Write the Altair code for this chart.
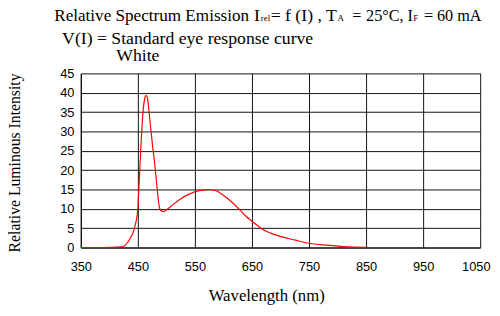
import altair as alt
import pandas as pd

# Spectrum curve
wavelength = [350, 380, 400, 420, 426, 432, 437, 441, 444, 446.5, 448.5, 450, 452, 454,
              456, 458, 460, 462, 464.5, 467, 469, 472, 476, 480, 484, 487, 489, 492,
              495, 498, 501, 510, 524, 540, 552, 565, 575, 588, 598, 612, 627, 640,
              650, 660, 668, 680, 697, 712, 726, 750, 781, 810, 850]
intensity = [0, 0, 0.05, 0.2, 0.4, 1.3, 2.5, 3.6, 5, 6.5, 8, 10, 16, 22,
             28, 33, 36.5, 38.5, 39.3, 38.5, 36, 31.5, 26, 21, 15, 11, 9.8, 9.4,
             9.3, 9.5, 9.8, 10.9, 12.5, 13.8, 14.5, 14.9, 15.0, 14.6, 13.7, 12.1, 10.0, 8.0,
             6.8, 5.6, 4.8, 3.9, 3.0, 2.4, 1.9, 1.1, 0.6, 0.25, 0.05]

x_ticks = [350, 450, 550, 650, 750, 850, 950, 1050]
y_ticks = [0, 5, 10, 15, 20, 25, 30, 35, 40, 45]

title_segments = ["Relative Spectrum Emission", "I", "rel", "= f (I) , T", "A",
                  "=", "25°C,", "I", "F", "=", "60 mA"]
subtitle = "V(I) = Standard eye response curve"
series_label = "White"
x_title = "Wavelength (nm)"
y_title = "Relative Luminous Intensity"

df = pd.DataFrame({"wavelength": wavelength, "intensity": intensity})

SERIF = "Liberation Serif"
SANS = "Liberation Sans"

line = alt.Chart(df).mark_line(color="#ff0000", strokeWidth=1.2, interpolate="monotone").encode(
    x=alt.X("wavelength:Q",
            scale=alt.Scale(domain=[350, 1050], nice=False, zero=False),
            axis=alt.Axis(values=x_ticks, format="d", title=None, grid=True, gridColor="#111",
                          gridOpacity=1, gridWidth=1, domainColor="#000", domainWidth=1,
                          ticks=False, labelFont=SANS, labelFontSize=13, labelColor="#000",
                          labelPadding=13,
                          labelAlign={"condition": {"test": "datum.value == 1050", "value": "right"},
                                      "value": "center"},
                          labelOffset={"condition": {"test": "datum.value == 1050", "value": 10},
                                       "value": 0})),
    y=alt.Y("intensity:Q",
            scale=alt.Scale(domain=[0, 45], nice=False),
            axis=alt.Axis(values=y_ticks, format="d", title=None, grid=True, gridColor="#111",
                          gridOpacity=1, gridWidth=1, domainColor="#000", domainWidth=1,
                          ticks=False, labelFont=SANS, labelFontSize=13, labelColor="#000",
                          labelPadding=7)),
)


def txt(s, x, y, size, font=SERIF, align="left", baseline="alphabetic", angle=0):
    return alt.Chart(pd.DataFrame({"t": [s]})).mark_text(
        font=font, fontSize=size, align=align, baseline=baseline, angle=angle, color="#000"
    ).encode(text="t:N", x=alt.value(x), y=alt.value(y))


big = 18
mid = 16.5
small = 9
layers = [line]
# start of each title piece, relative to the plot's left edge
xs = [-27, 176, 183, 193, 261, 276, 290, 332, 338, 349, 362]
sizes = [17.4, big, small, big, small, mid, mid, mid, small, mid, mid]
for s, x, sz in zip(title_segments, xs, sizes):
    layers.append(txt(s, x, -53, sz))
layers.append(txt(subtitle, -19, -30, 18))
layers.append(txt(series_label, 36, -13, 18))
layers.append(txt(x_title, 189, 231, 17, align="center"))
layers.append(txt(y_title, -67, 91, 16, align="center", baseline="middle", angle=270))

chart = alt.layer(*layers).properties(
    width=406, height=177,
    autosize=alt.AutoSizeParams(type="none"),
    padding={"left": 74, "top": 64, "right": 12, "bottom": 58},
).configure_view(stroke="transparent")

chart.save("out.html", embed_options={"renderer": "svg", "actions": False})
